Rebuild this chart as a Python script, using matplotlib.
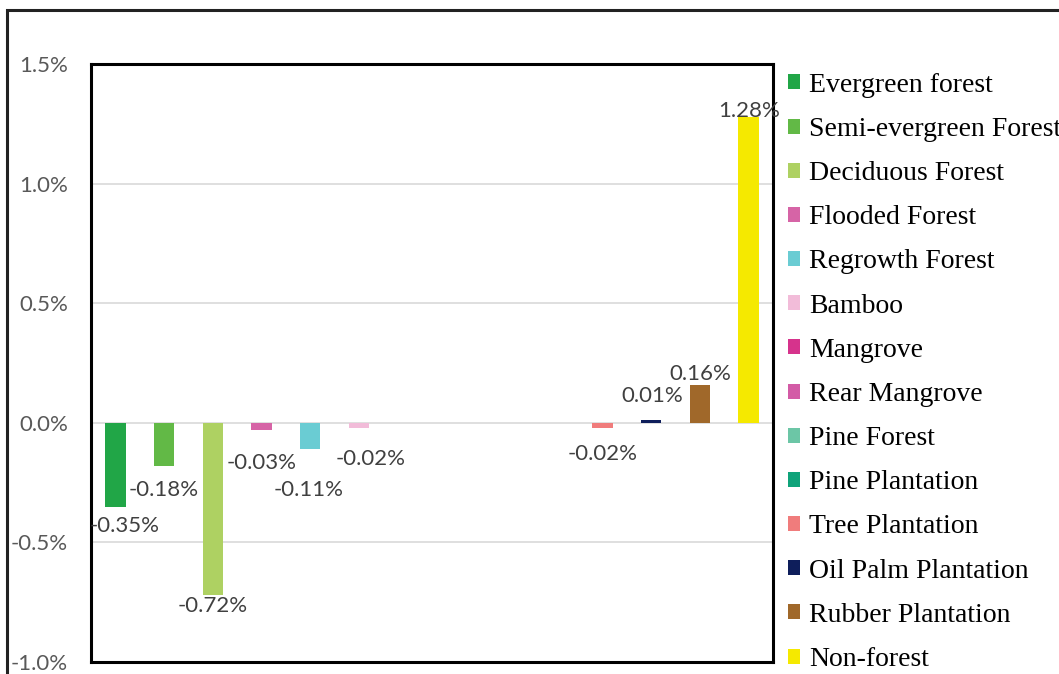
import matplotlib.pyplot as plt
from matplotlib.patches import Rectangle
from matplotlib.ticker import FuncFormatter

# Förändring per marktäckningsklass (%)
klasser = [
    "Evergreen forest", "Semi-evergreen Forest", "Deciduous Forest",
    "Flooded Forest", "Regrowth Forest", "Bamboo", "Mangrove",
    "Rear Mangrove", "Pine Forest", "Pine Plantation", "Tree Plantation",
    "Oil Palm Plantation", "Rubber Plantation", "Non-forest",
]
varden = [-0.35, -0.18, -0.72, -0.03, -0.11, -0.02, 0.0,
          0.0, 0.0, 0.0, -0.02, 0.01, 0.16, 1.28]
etiketter = ["-0.35%", "-0.18%", "-0.72%", "-0.03%", "-0.11%", "-0.02%", None,
             None, None, None, "-0.02%", "0.01%", "0.16%", "1.28%"]
farger = [
    "#21a647", "#62b946", "#aed162", "#d664a6", "#6accd3", "#f2bcd9",
    "#d6338c", "#d35ba6", "#6cc6a6", "#0fa37a", "#f07c7c", "#0e1e5b",
    "#a0682a", "#f5e900",
]
# etikettförskjutning i pixlar (dx, dy) från stapelns ände
forskjutning = [(9, -19), (0, -24), (0, -11), (0, -33), (-2, -41), (12, -31),
                (0, 0), (0, 0), (0, 0), (0, 0), (0, -26), (1, 24), (0, 11),
                (0, 6)]

fig = plt.figure(figsize=(10.59, 6.74), dpi=100)
ax = fig.add_axes([0.0859, 0.0178, 0.6441, 0.8872])

x = list(range(len(klasser)))
staplar = ax.bar(x, varden, width=0.42, color=farger, zorder=3)

ax.set_xlim(-0.5, len(klasser) - 0.5)
ax.set_ylim(-1.0, 1.5)
ax.set_yticks([-1.0, -0.5, 0.0, 0.5, 1.0, 1.5])
ax.yaxis.set_major_formatter(FuncFormatter(lambda v, p: f"{v:.1f}%"))
ax.set_xticks([])
ax.grid(axis="y", color="#d9d9d9", linewidth=1.2, zorder=0)
ax.tick_params(axis="y", length=0, pad=16.5, labelsize=16, labelcolor="#595959")
for t in ax.get_yticklabels():
    t.set_fontfamily("Lato")
for s in ax.spines.values():
    s.set_linewidth(2.2)
    s.set_color("black")
    s.set_zorder(5)

for i, (v, txt) in enumerate(zip(varden, etiketter)):
    if txt is None:
        continue
    dx, dy = forskjutning[i]
    ax.annotate(txt, (i, v), xytext=(dx, dy), textcoords="offset pixels",
                ha="center", va="center", fontsize=16, color="#404040",
                family="Lato", zorder=6, annotation_clip=False)

ax.legend(staplar.patches, klasser, loc="upper left",
          bbox_to_anchor=(0.744, 0.892), bbox_transform=fig.transFigure,
          frameon=False, borderpad=0, borderaxespad=0,
          prop={"family": "Liberation Serif", "size": 20},
          handlelength=0.45, handleheight=0.45, handletextpad=0.3,
          labelspacing=0.69)

# yttre ram
fig.patches.append(Rectangle((7 / 1059, -0.05), 1.1, 1 - 10 / 674 + 0.05,
                             transform=fig.transFigure, fill=False,
                             edgecolor="#222222", linewidth=2.2))

plt.savefig("out.png", dpi=100)
